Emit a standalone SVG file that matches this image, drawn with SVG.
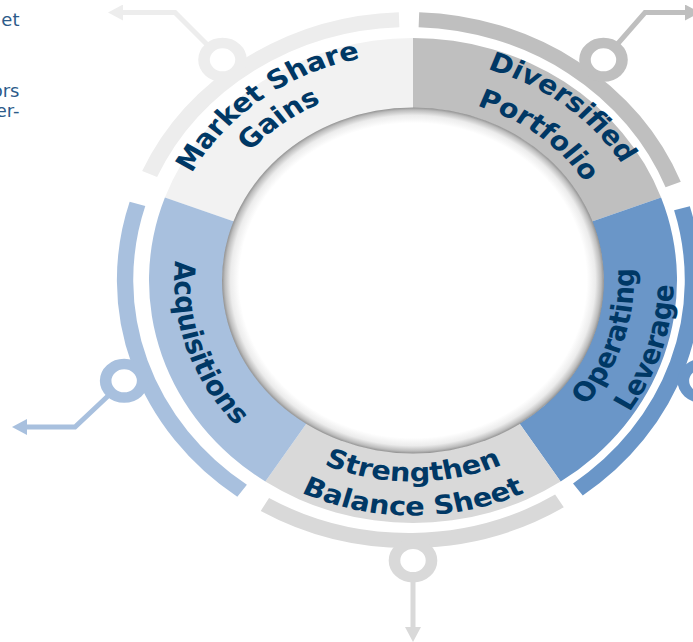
<svg xmlns="http://www.w3.org/2000/svg" width="693" height="642" viewBox="0 0 693 642">
<defs>
<style>
.lbl{font-family:"DejaVu Sans","Liberation Sans",sans-serif;font-weight:bold;font-size:26px;fill:#003865;text-anchor:middle}
.band{fill:none;stroke-width:15}
.ring{fill:#ffffff;stroke-width:10.5}
.con{fill:none;stroke-width:5;stroke-linejoin:miter}
.frag{font-family:"DejaVu Sans","Liberation Sans",sans-serif;font-size:18px;fill:#2D5B8A;text-anchor:end}
</style>
<radialGradient id="hole" cx="50%" cy="50%" r="50%">
<stop offset="0" stop-color="#ffffff"/>
<stop offset="0.91" stop-color="#ffffff"/>
<stop offset="0.955" stop-color="#ececec"/>
<stop offset="0.985" stop-color="#bdbdbd"/>
<stop offset="1" stop-color="#929292"/>
</radialGradient>
<marker id="arLight" markerUnits="userSpaceOnUse" markerWidth="15" markerHeight="16" viewBox="0 0 15 16" refX="0" refY="8" orient="auto"><path d="M0,0L15,8L0,16Z" fill="#EDEDED"/></marker>
<marker id="arGray" markerUnits="userSpaceOnUse" markerWidth="15" markerHeight="16" viewBox="0 0 15 16" refX="0" refY="8" orient="auto"><path d="M0,0L15,8L0,16Z" fill="#BFBFBF"/></marker>
<marker id="arBlue" markerUnits="userSpaceOnUse" markerWidth="15" markerHeight="16" viewBox="0 0 15 16" refX="0" refY="8" orient="auto"><path d="M0,0L15,8L0,16Z" fill="#A8C0DE"/></marker>
<marker id="arSilver" markerUnits="userSpaceOnUse" markerWidth="15" markerHeight="16" viewBox="0 0 15 16" refX="0" refY="8" orient="auto"><path d="M0,0L15,8L0,16Z" fill="#D9D9D9"/></marker>
<path id="pMS1" d="M-225.31,27.66 A227,227 0 0 1 88.70,-208.95"/>
<path id="pMS2" d="M-194.54,23.89 A196,196 0 0 1 76.58,-180.42"/>
<path id="pDP1" d="M-83.16,-205.83 A222,222 0 0 1 219.84,30.90"/>
<path id="pDP2" d="M-68.93,-170.60 A184,184 0 0 1 182.21,25.61"/>
<path id="pOL1" d="M43.29,195.26 A200,200 0 0 0 147.46,-135.12"/>
<path id="pOL2" d="M51.08,230.41 A236,236 0 0 0 174.00,-159.44"/>
<path id="pAC" d="M-161.78,-143.13 A216,216 0 0 0 -43.06,211.66"/>
<path id="pSB1" d="M-174.07,100.5 A201,201 0 0 0 174.07,100.5"/>
<path id="pSB2" d="M-203.52,117.5 A235,235 0 0 0 203.52,117.5"/>
</defs>
<rect width="693" height="642" fill="#ffffff"/>

<g id="side-text">
<text class="frag" x="19.5" y="26">et</text>
<text class="frag" x="19.5" y="97">ors</text>
<text class="frag" x="19.5" y="117">er-</text>
</g>

<g id="connectors">
<polyline class="con" stroke="#EDEDED" points="222.5,60 175,12.5 123,12.5" marker-end="url(#arLight)"/>
<polyline class="con" stroke="#BFBFBF" points="603.5,60 645,12.5 685,12.5" marker-end="url(#arGray)"/>
<polyline class="con" stroke="#A8C0DE" points="124.2,380.8 75,427 27,427" marker-end="url(#arBlue)"/>
<polyline class="con" stroke="#D9D9D9" points="413,560.5 413,627" marker-end="url(#arSilver)"/>
</g>

<g id="market-share-gains">
<path fill="#F2F2F2" d="M164.92,197.56 A264,242.5 0 0 1 413,38 L413,108 A190.5,172.5 0 0 0 233.99,221.50 Z"/>
<path class="band" stroke="#EDEDED" transform="translate(409 280) scale(1.09 1)" d="M-237.98,-105.96 A260.5,260.5 0 0 1 -9.09,-260.34"/>
<circle class="ring" stroke="#EDEDED" transform="translate(413 280.5) scale(1.105 1)" cx="-172.38" cy="-220.64" r="16.75"/>
<text class="lbl" transform="translate(413 280.5) scale(1.105 1)"><textPath href="#pMS1" startOffset="50%">Market Share</textPath></text>
<text class="lbl" transform="translate(413 280.5) scale(1.105 1)"><textPath href="#pMS2" startOffset="50%">Gains</textPath></text>
</g>

<g id="diversified-portfolio">
<path fill="#BFBFBF" d="M413,38 A264,242.5 0 0 1 661.08,197.56 L592.01,221.50 A190.5,172.5 0 0 0 413,108 Z"/>
<path class="band" stroke="#BFBFBF" transform="translate(409 280) scale(1.09 1)" d="M9.09,-260.34 A260.5,260.5 0 0 1 242.37,-95.47"/>
<circle class="ring" stroke="#BFBFBF" transform="translate(413 280.5) scale(1.105 1)" cx="172.38" cy="-220.64" r="16.75"/>
<text class="lbl" transform="translate(413 280.5) scale(1.105 1)"><textPath href="#pDP1" startOffset="50%">Diversified</textPath></text>
<text class="lbl" transform="translate(413 280.5) scale(1.105 1)"><textPath href="#pDP2" startOffset="50%">Portfolio</textPath></text>
</g>

<g id="operating-leverage">
<path fill="#6A96C8" d="M661.08,197.56 A264,242.5 0 0 1 560.63,481.54 L519.53,423.51 A190.5,172.5 0 0 0 592.01,221.50 Z"/>
<path class="band" stroke="#6A96C8" transform="translate(409 280) scale(1.09 1)" d="M250.41,-71.80 A260.5,260.5 0 0 1 154.95,209.41"/>
<circle class="ring" stroke="#6A96C8" transform="translate(413 280.5) scale(1.105 1)" cx="261.40" cy="100.34" r="16.75"/>
<text class="lbl" transform="translate(413 280.5) scale(1.105 1)"><textPath href="#pOL1" startOffset="50%">Operating</textPath></text>
<text class="lbl" transform="translate(413 280.5) scale(1.105 1)"><textPath href="#pOL2" startOffset="50%">Leverage</textPath></text>
</g>

<g id="strengthen-balance-sheet">
<path fill="#D9D9D9" d="M560.63,481.54 A264,242.5 0 0 1 265.37,481.54 L306.47,423.51 A190.5,172.5 0 0 0 519.53,423.51 Z"/>
<path class="band" stroke="#D9D9D9" transform="translate(409 280) scale(1.09 1)" d="M138.04,220.92 A260.5,260.5 0 0 1 -132.21,224.45"/>
<circle class="ring" stroke="#D9D9D9" transform="translate(413 280.5) scale(1.105 1)" cx="0" cy="280" r="16.75"/>
<text class="lbl" transform="translate(413 280.5) scale(1.105 1)"><textPath href="#pSB1" startOffset="50%">Strengthen</textPath></text>
<text class="lbl" transform="translate(413 280.5) scale(1.105 1)"><textPath href="#pSB2" startOffset="50%">Balance Sheet</textPath></text>
</g>

<g id="acquisitions">
<path fill="#A8C0DE" d="M265.37,481.54 A264,242.5 0 0 1 164.92,197.56 L233.99,221.50 A190.5,172.5 0 0 0 306.47,423.51 Z"/>
<path class="band" stroke="#A8C0DE" transform="translate(409 280) scale(1.09 1)" d="M-153.12,210.75 A260.5,260.5 0 0 1 -249.11,-76.16"/>
<circle class="ring" stroke="#A8C0DE" transform="translate(413 280.5) scale(1.105 1)" cx="-261.40" cy="100.34" r="16.75"/>
<text class="lbl" transform="translate(413 280.5) scale(1.105 1)"><textPath href="#pAC" startOffset="50%">Acquisitions</textPath></text>
</g>

<g id="center">
<ellipse cx="413" cy="280.5" rx="191" ry="173" fill="url(#hole)"/>
</g>
</svg>
